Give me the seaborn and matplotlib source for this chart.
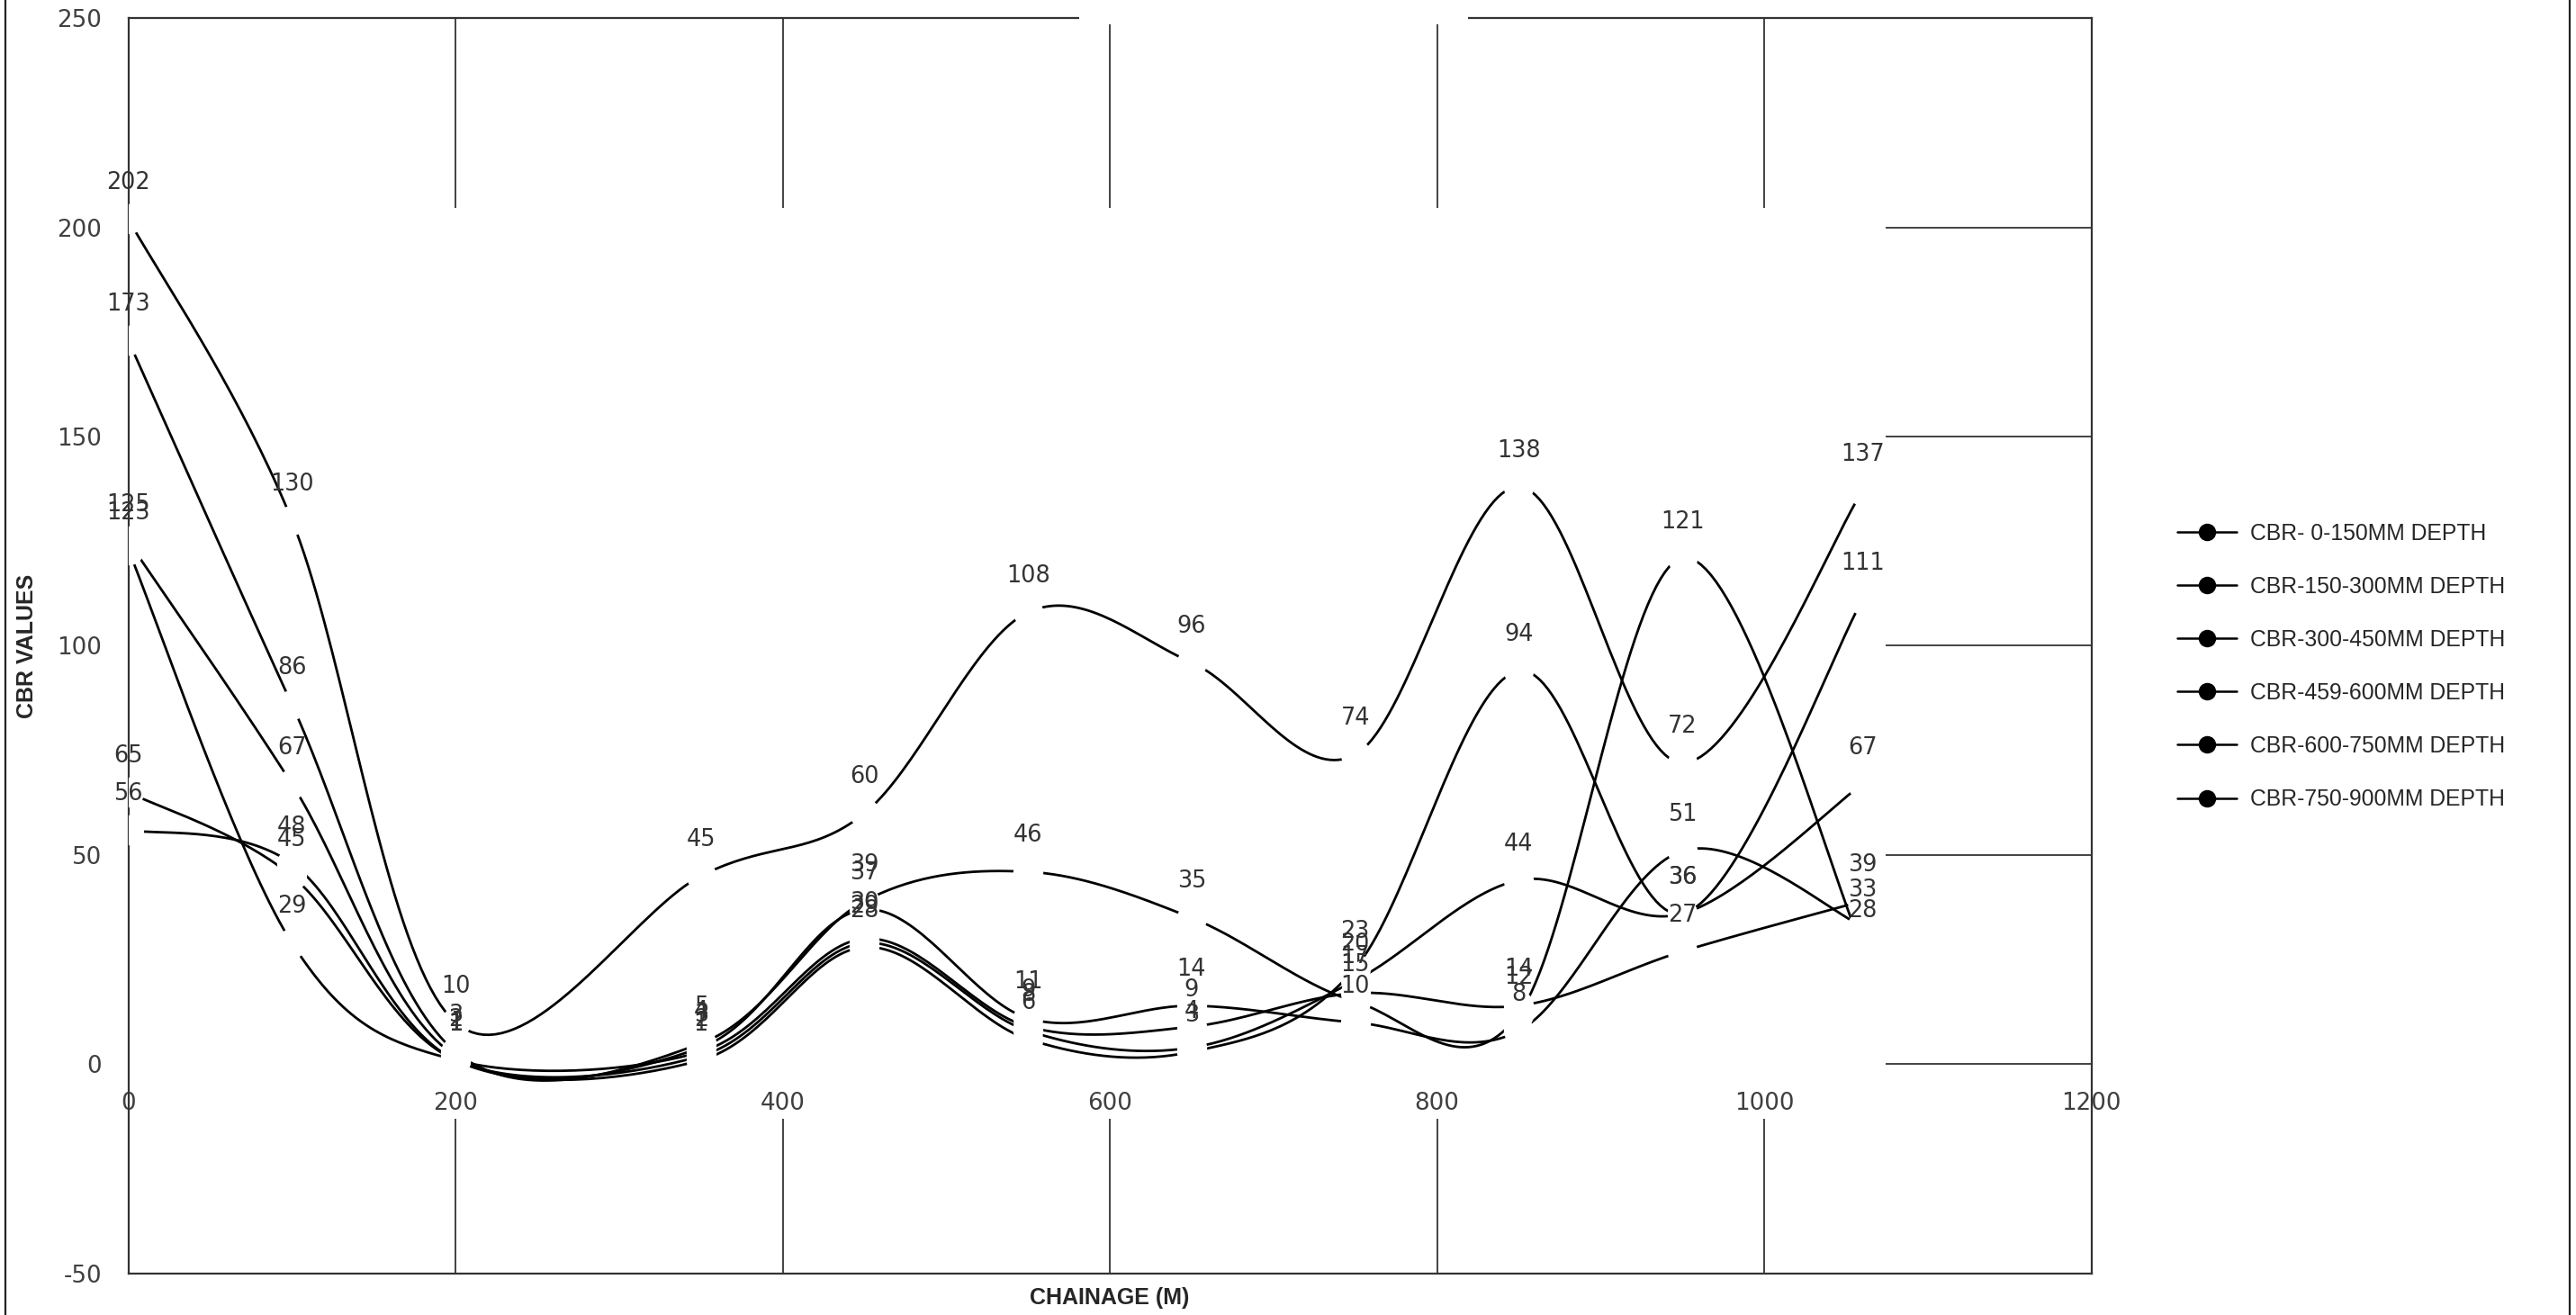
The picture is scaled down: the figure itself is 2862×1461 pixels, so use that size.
import numpy as np
import pandas as pd
import seaborn as sns
import matplotlib.pyplot as plt
from matplotlib.lines import Line2D
from matplotlib.patches import Rectangle
from matplotlib.font_manager import FontProperties

# chainage (m) of the test pits and CBR readings per depth band
chainage = [0, 100, 200, 350, 450, 550, 650, 750, 850, 950, 1060]
cbr_0_150 = [202, 130, 10, 45, 60, 108, 96, 74, 138, 72, 137]
cbr_150_300 = [173, 86, 3, 5, 39, 46, 35, 15, 12, 121, 28]
cbr_300_450 = [125, 67, 2, 4, 37, 11, 14, 10, 8, 51, 33]
cbr_459_600 = [123, 29, 1, 3, 30, 9, 9, 17, 14, 27, 39]
cbr_600_750 = [65, 45, 1, 2, 29, 8, 4, 20, 44, 36, 67]
cbr_750_900 = [56, 48, 1, 1, 28, 6, 3, 23, 94, 36, 111]

depth_labels = ['CBR- 0-150MM DEPTH', 'CBR-150-300MM DEPTH', 'CBR-300-450MM DEPTH',
                'CBR-459-600MM DEPTH', 'CBR-600-750MM DEPTH', 'CBR-750-900MM DEPTH']
series = [cbr_0_150, cbr_150_300, cbr_300_450, cbr_459_600, cbr_600_750, cbr_750_900]

x_ticks = list(range(0, 1201, 200))
y_ticks = list(range(-50, 251, 50))


def smooth(xs, ys, steps=40):
    """Excel style smoothed line: bezier segments with catmull-rom control points."""
    p = np.column_stack([xs, ys]).astype(float)
    n = len(p)
    out = [p[0]]
    t = np.linspace(0, 1, steps)[1:, None]
    for i in range(n - 1):
        p0, p1, p2, p3 = p[max(i - 1, 0)], p[i], p[i + 1], p[min(i + 2, n - 1)]
        c1 = p1 + (p2 - p0) / 6
        c2 = p2 - (p3 - p1) / 6
        seg = (1 - t) ** 3 * p1 + 3 * (1 - t) ** 2 * t * c1 + 3 * (1 - t) * t ** 2 * c2 + t ** 3 * p2
        out.extend(seg)
    return np.array(out)


def build_frames():
    points, curves = [], []
    for name, vals in zip(depth_labels, series):
        points.append(pd.DataFrame({'chainage': chainage, 'cbr': vals, 'depth': name}))
        c = smooth(chainage, vals)
        curves.append(pd.DataFrame({'chainage': c[:, 0], 'cbr': c[:, 1], 'depth': name}))
    return pd.concat(points, ignore_index=True), pd.concat(curves, ignore_index=True)


sns.set_style('white')
plt.rcParams['font.family'] = ['DejaVu Sans']
plt.rcParams['axes.unicode_minus'] = False

points, curves = build_frames()

fig = plt.figure(figsize=(14.31, 7.305), dpi=200)
ax = fig.add_axes([0.0498, 0.0315, 0.7621, 0.9548])

sns.lineplot(data=curves, x='chainage', y='cbr', hue='depth', palette=['black'] * 6,
             sort=False, estimator=None, lw=1.0, legend=False, ax=ax, zorder=3)
# white markers make the little gaps at every reading
sns.scatterplot(data=points, x='chainage', y='cbr', color='white', s=144, linewidth=0,
                legend=False, ax=ax, zorder=4)

for vals in series:
    for x, v in zip(chainage, vals):
        ax.annotate(str(v), (x, v), xytext=(0, 14.5), textcoords='offset points',
                    ha='center', va='center', fontsize=9.2, color='#333333', zorder=6)

ax.set_xlim(0, 1200)
ax.set_ylim(-50, 250)
ax.set_xticks(x_ticks)
ax.set_yticks(y_ticks)
ax.set_axisbelow(True)
ax.grid(True, color='#222222', lw=0.6)
for s in ax.spines.values():
    s.set_visible(True)
    s.set_color('#333333')
    s.set_linewidth(0.8)

ax.tick_params(axis='both', length=0, labelsize=9.4, labelcolor='#404040')
ax.tick_params(axis='y', pad=10.6)
ax.tick_params(axis='x', pad=-72.6)
for lab in ax.get_xticklabels():
    lab.set_bbox(dict(facecolor='white', edgecolor='none', pad=1.5))

# plot area fill hides the inner gridlines, like in the original sheet
ax.add_patch(Rectangle((0, -6), 1074, 210.7, facecolor='white', edgecolor='none', zorder=1))
ax.add_patch(Rectangle((581, 248.4), 238, 5, facecolor='white', edgecolor='none',
                       zorder=3, clip_on=False))

title_font = dict(family=['Liberation Sans', 'DejaVu Sans'], weight='bold', size=9)
ax.set_xlabel('CHAINAGE (M)', **title_font, color='#262626')
ax.set_ylabel('CBR VALUES', **title_font, color='#262626')
ax.xaxis.set_label_coords(0.5, -0.011)
ax.yaxis.set_label_coords(-0.046, 0.5)

handles = [Line2D([], [], color='black', lw=0.9, marker='o', markersize=6) for _ in depth_labels]
fig.legend(handles, depth_labels, loc='center left', bbox_to_anchor=(0.8453, 0.4932),
           frameon=False, prop=FontProperties(family=['Liberation Sans', 'DejaVu Sans'], size=8.9),
           handlelength=2.65, handletextpad=0.6, labelspacing=1.42, borderpad=0,
           borderaxespad=0, labelcolor='#262626')

fig.add_artist(Rectangle((0.0021, -0.01), 0.9955, 1.02, transform=fig.transFigure,
                         fill=False, edgecolor='#222222', lw=0.8))

fig.savefig('out.png', dpi=200)
